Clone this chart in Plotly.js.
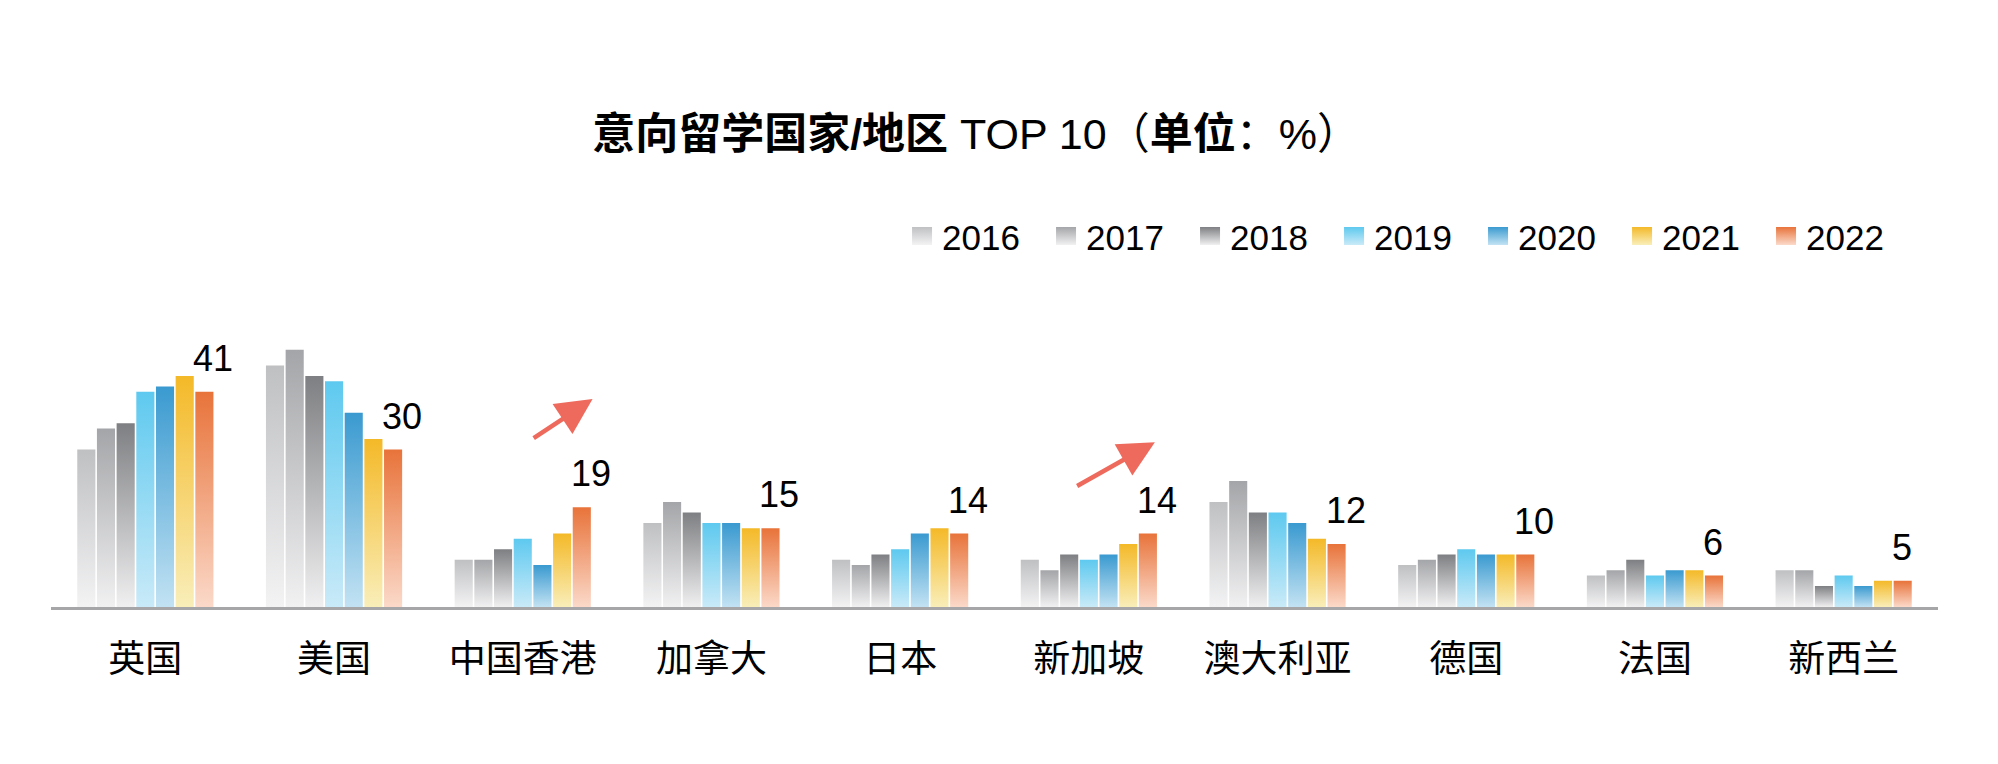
<!DOCTYPE html>
<html><head><meta charset="utf-8">
<script src="https://cdn.plot.ly/plotly-3.0.1.min.js"></script>
<style>html,body{margin:0;padding:0;background:#fff;} #chart{width:1998px;height:764px;}</style>
</head><body>
<svg width="0" height="0" style="position:absolute"><defs id="gdefs"></defs></svg>
<div id="chart"></div>
<script>
// ---- data ----
const categories = ['英国','美国','中国香港','加拿大','日本','新加坡','澳大利亚','德国','法国','新西兰'];
const years = ['2016','2017','2018','2019','2020','2021','2022'];
const v2016 = [30,46,9,16,9,9,20,8,6,7];
const v2017 = [34,49,9,20,8,7,24,9,7,7];
const v2018 = [35,44,11,18,10,10,18,10,9,4];
const v2019 = [41,43,13,16,11,9,18,11,6,6];
const v2020 = [42,37,8,16,14,10,16,10,7,4];
const v2021 = [44,32,14,15,15,12,13,10,7,5];
const v2022 = [41,30,19,15,14,14,12,10,6,5];
const seriesValues = [v2016,v2017,v2018,v2019,v2020,v2021,v2022];
const titleText = '<b>意向留学国家/地区</b> TOP 10（<b>单位</b>：%）';

// ---- styles ----
const topColors = ['#bfc0c2','#a4a5a8','#7e7f82','#5ec9ef','#3a9ad0','#f4b928','#e8733a'];
const bottomColors = ['#f3f3f4','#f1f1f2','#f0f0f1','#c9eaf8','#c2e2f3','#f9eeb9','#fbd9c9'];
const FONT = 'Liberation Sans, Arial, Noto Sans CJK SC, sans-serif';

const traces = seriesValues.map((vals, i) => ({
  type: 'bar',
  name: years[i],
  x: categories.map((c, k) => k),
  y: vals,
  marker: {color: topColors[i]},
  hoverinfo: 'skip'
}));

// value labels for the latest year, left-aligned over its bar
const lastVals = seriesValues[seriesValues.length - 1];
const labelAnnots = lastVals.map((v, k) => ({
  x: k, y: v, xref: 'x', yref: 'y', text: String(v), showarrow: false,
  xanchor: 'left', yanchor: 'bottom', xshift: 46, yshift: 11,
  font: {family: FONT, size: 36, color: '#000'}
}));

const arrowStyle = {showarrow: true, arrowhead: 2, arrowsize: 1.6, arrowwidth: 4.5, arrowcolor: '#ee6a5c', text: '', xref: 'x', yref: 'y', axref: 'x', ayref: 'y'};
const arrowAnnots = [
  Object.assign({x: 2.37, y: 39.6, ax: 2.05, ay: 32}, arrowStyle),
  Object.assign({x: 5.35, y: 31.4, ax: 4.93, ay: 22.9}, arrowStyle)
];

const layout = {
  width: 1998, height: 764,
  paper_bgcolor: '#ffffff', plot_bgcolor: '#ffffff',
  margin: {l: 51, r: 60, t: 60, b: 157},
  font: {family: FONT, color: '#000'},
  title: {text: titleText, x: 0.4885, xref: 'container', xanchor: 'center', y: 0.825, yref: 'container', yanchor: 'middle',
          font: {family: FONT, size: 43, color: '#000'}},
  barmode: 'group', bargap: 0.27, bargroupgap: 0.08,
  showlegend: true,
  legend: {orientation: 'h', xref: 'paper', yref: 'paper', x: 0.451, xanchor: 'left', y: 0.678, yanchor: 'middle',
           font: {family: FONT, size: 35, color: '#000'}, entrywidth: 99, entrywidthmode: 'pixels', traceorder: 'normal',
           bgcolor: 'rgba(0,0,0,0)'},
  xaxis: {range: [-0.5, 9.5], tickmode: 'array', tickvals: categories.map((c, k) => k), ticktext: categories,
          showline: true, linecolor: '#a6a6a8', linewidth: 3, ticks: '', showgrid: false, zeroline: false,
          tickfont: {family: FONT, size: 37, color: '#000'}, ticklabelstandoff: 18},
  yaxis: {range: [0, 104.19], visible: false, showgrid: false, zeroline: false},
  annotations: labelAnnots.concat(arrowAnnots)
};

Plotly.newPlot('chart', traces, layout, {staticPlot: true}).then(gd => {
  const ns = 'http://www.w3.org/2000/svg';
  const defs = document.getElementById('gdefs');
  years.forEach((y, i) => {
    const g = document.createElementNS(ns, 'linearGradient');
    g.setAttribute('id', 'grad' + i);
    g.setAttribute('x1', '0'); g.setAttribute('y1', '0');
    g.setAttribute('x2', '0'); g.setAttribute('y2', '1');
    [[0, topColors[i]], [1, bottomColors[i]]].forEach(([o, c]) => {
      const s = document.createElementNS(ns, 'stop');
      s.setAttribute('offset', o); s.setAttribute('stop-color', c);
      g.appendChild(s);
    });
    defs.appendChild(g);
  });
  gd.querySelectorAll('.barlayer .trace').forEach((g, i) => {
    g.querySelectorAll('.point path').forEach(p => { p.style.fill = 'url(#grad' + i + ')'; });
  });
  gd.querySelectorAll('.legend .traces').forEach((g, i) => {
    g.querySelectorAll('.legendpoints path').forEach(p => {
      p.setAttribute('d', 'M10,9H-10V-9H10Z');
      p.style.fill = 'url(#grad' + i + ')';
    });
  });
});
</script>
</body></html>
